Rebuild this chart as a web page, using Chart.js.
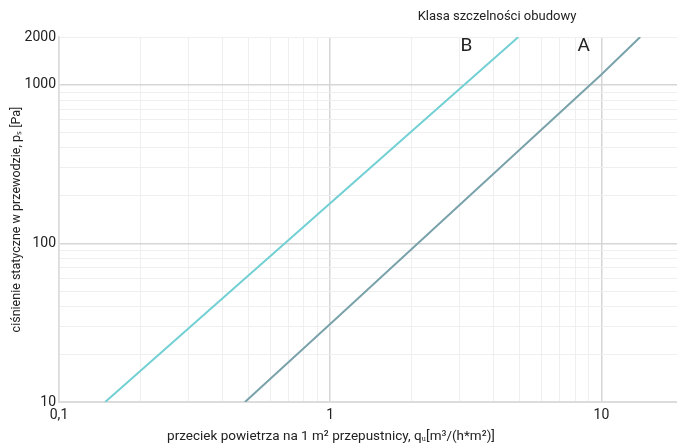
<!DOCTYPE html>
<html>
<head>
<meta charset="utf-8">
<script src="https://cdn.jsdelivr.net/npm/chart.js@4"></script>
<style>
  html, body { margin: 0; padding: 0; background: #fff; }
  #wrap { width: 677px; height: 445px; }
</style>
</head>
<body>
<div id="wrap"><canvas id="myChart"></canvas></div>
<script>
  // dane
  const classNames = ['A', 'B'];
  const flowA = [0.485, 1, 10, 13.9];
  const pressA = [10, 31, 1160, 2000];
  const flowB = [0.148, 1, 4.94];
  const pressB = [10, 179, 2000];
  const yTickLabels = [10, 100, 1000, 2000];
  const xTickLabels = [0.1, 1, 10];
  // pozycje etykiet klas (w jednostkach osi)
  const labelFlow = [8.6, 3.18];
  const labelPress = [1740, 1740];

  const pts = (xs, ys) => xs.map((x, i) => ({ x: x, y: ys[i] }));

  function logTicks(min, max) {
    const out = [];
    for (let e = Math.floor(Math.log10(min)); e <= Math.ceil(Math.log10(max)); e++) {
      for (let m = 1; m < 10; m++) {
        const v = +(m * Math.pow(10, e)).toPrecision(6);
        if (v >= min - 1e-9 && v <= max + 1e-9) out.push({ value: v });
      }
    }
    return out;
  }
  const isMajor = v => Math.abs(Math.log10(v) - Math.round(Math.log10(v))) < 1e-6;

  const textPlugin = {
    id: 'texts',
    afterDraw(chart) {
      const c = chart.ctx, a = chart.chartArea;
      const xs = chart.scales.x, ys = chart.scales.y;
      c.save();
      c.fillStyle = '#222';
      c.textAlign = 'center';
      c.textBaseline = 'middle';
      c.font = '13px Roboto';
      c.fillText('Klasa szczelności obudowy', 497, 17);
      c.font = '13.5px Roboto';
      c.fillText('przeciek powietrza na 1 m² przepustnicy, qᵤ[m³/(h*m²)]', 331, 437);
      c.save();
      c.translate(17, (a.top + a.bottom) / 2);
      c.rotate(-Math.PI / 2);
      c.font = '12.5px Roboto';
      c.fillText('ciśnienie statyczne w przewodzie, pₛ [Pa]', 0, 0);
      c.restore();
      c.font = '19px Roboto';
      classNames.forEach((n, i) => {
        c.fillText(n, xs.getPixelForValue(labelFlow[i]), ys.getPixelForValue(labelPress[i]));
      });
      c.restore();
    }
  };

  const ctx = document.getElementById('myChart').getContext('2d');
  const myChart = new Chart(ctx, {
    type: 'line',
    data: {
      datasets: [
        {
          label: 'A',
          data: pts(flowA, pressA),
          borderColor: '#7aa2aa',
          borderWidth: 2,
          pointRadius: 0,
          tension: 0
        },
        {
          label: 'B',
          data: pts(flowB, pressB),
          borderColor: '#72d0d4',
          borderWidth: 2,
          pointRadius: 0,
          tension: 0
        }
      ]
    },
    plugins: [textPlugin],
    options: {
      responsive: true,
      maintainAspectRatio: false,
      animation: false,
      layout: { padding: { top: 37, right: 0, bottom: 0, left: 0 } },
      plugins: {
        legend: { display: false },
        tooltip: { enabled: false }
      },
      scales: {
        x: {
          type: 'logarithmic',
          min: 0.1,
          max: 19,
          afterBuildTicks: s => { s.ticks = logTicks(0.1, 19); },
          afterFit: s => { s.height = 43; },
          border: { color: '#dcdcdc', width: 2 },
          grid: {
            drawTicks: false,
            color: c => isMajor(c.tick.value) ? '#d6d6d6' : '#efefef',
            lineWidth: c => isMajor(c.tick.value) ? 1.5 : 1
          },
          ticks: {
            autoSkip: false,
            maxRotation: 0,
            padding: 5,
            color: '#222',
            font: { family: 'Roboto', size: 14 },
            callback: v => xTickLabels.includes(v) ? String(v).replace('.', ',') : ''
          }
        },
        y: {
          type: 'logarithmic',
          min: 10,
          max: 2000,
          afterBuildTicks: s => { s.ticks = logTicks(10, 2000); },
          afterFit: s => { s.width = 59; },
          border: { color: '#dcdcdc', width: 1.5 },
          grid: {
            drawTicks: false,
            color: c => isMajor(c.tick.value) ? '#d6d6d6' : '#efefef',
            lineWidth: c => isMajor(c.tick.value) ? 1.5 : 1
          },
          ticks: {
            autoSkip: false,
            padding: 3,
            color: '#222',
            font: { family: 'Roboto', size: 14 },
            callback: v => yTickLabels.includes(v) ? String(v) : ''
          }
        }
      }
    }
  });
</script>
</body>
</html>
